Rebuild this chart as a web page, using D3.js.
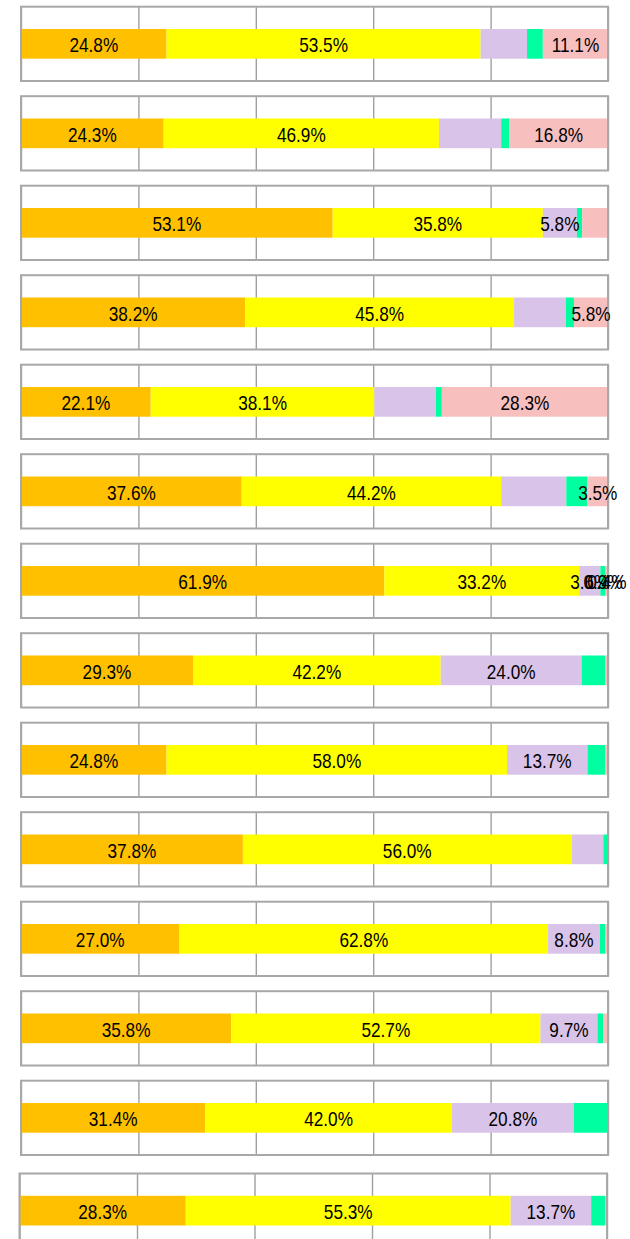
<!DOCTYPE html>
<html>
<head>
<meta charset="utf-8">
<script src="https://cdn.jsdelivr.net/npm/d3@7"></script>
<style>
  body { margin: 0; background: #fff; }
</style>
</head>
<body>
<div id="chart"></div>
<script>
// Chart values (percent), one entry per row, top to bottom
const orange   = [24.8, 24.3, 53.1, 38.2, 22.1, 37.6, 61.9, 29.3, 24.8, 37.8, 27.0, 35.8, 31.4, 28.3];
const yellow   = [53.5, 46.9, 35.8, 45.8, 38.1, 44.2, 33.2, 42.2, 58.0, 56.0, 62.8, 52.7, 42.0, 55.3];
const lavender = [7.9, 10.6, 5.8, 8.8, 10.5, 11.1, 3.6, 24.0, 13.7, 5.4, 8.8, 9.7, 20.8, 13.7];
const green    = [2.7, 1.4, 0.9, 1.4, 1.0, 3.6, 0.9, 4.0, 3.0, 0.8, 0.9, 1.0, 5.8, 2.4];
const pink     = [11.1, 16.8, 4.4, 5.8, 28.3, 3.5, 0.4, 0.5, 0.5, 0.0, 0.5, 0.8, 0.0, 0.3];

// which segments carry a data label in each row (0 = orange ... 4 = pink)
const shownLabels = [
  [0, 1, 4], [0, 1, 4], [0, 1, 2], [0, 1, 4], [0, 1, 4], [0, 1, 4], [0, 1, 2, 3, 4],
  [0, 1, 2], [0, 1, 2], [0, 1], [0, 1, 2], [0, 1, 2], [0, 1, 2], [0, 1, 2]
];
const gridTicks = [0, 20, 40, 60, 80, 100];

const keys = ["orange", "yellow", "lavender", "green", "pink"];
const colors = ["#FFC000", "#FFFF00", "#D9C3E9", "#00FFA0", "#F8BFBF"];

const width = 630, height = 1239;
const panelH = 74.3, barTop = 22.3, barH = 29.7;

const rows = orange.map((d, i) => ({
  i,
  orange: d, yellow: yellow[i], lavender: lavender[i], green: green[i], pink: pink[i]
}));
const stacked = d3.stack().keys(keys)(rows);

const svg = d3.select("#chart").append("svg")
  .attr("width", width)
  .attr("height", height)
  .attr("viewBox", [0, 0, width, height]);

// panel placement: the last panel sits a little apart from the others
const rowY = d3.scaleLinear().domain([0, 12]).range([6.7, 1080.7]);
const panelTop = i => i < 13 ? rowY(i) : 1173.5;
const xMain = d3.scaleLinear().domain([0, 100]).range([21, 608]);
const xLast = d3.scaleLinear().domain([0, 100]).range([19.5, 607]);
const xFor = i => i < 13 ? xMain : xLast;

rows.forEach((row, i) => {
  const x = xFor(i);
  const g = svg.append("g").attr("transform", `translate(0,${panelTop(i)})`);

  g.append("rect")
    .attr("x", x(0)).attr("y", 0)
    .attr("width", x(100) - x(0)).attr("height", panelH)
    .attr("fill", "#fff");

  // vertical gridlines
  g.append("g")
    .attr("transform", `translate(0,${panelH})`)
    .call(d3.axisBottom(x).tickValues(gridTicks).tickSize(-panelH).tickFormat("").tickSizeOuter(0))
    .call(a => a.select(".domain").remove())
    .call(a => a.selectAll(".tick text").remove())
    .call(a => a.selectAll(".tick line").attr("stroke", "#a0a0a0").attr("stroke-width", 1.4));

  // stacked segments
  g.selectAll("rect.seg")
    .data(stacked.map((s, k) => ({ k, v: s[i] })))
    .join("rect")
    .attr("class", "seg")
    .attr("x", d => x(d.v[0]))
    .attr("y", barTop)
    .attr("width", d => Math.max(0, x(d.v[1]) - x(d.v[0])))
    .attr("height", barH)
    .attr("fill", d => colors[d.k]);

  // frame
  g.append("rect")
    .attr("x", x(0)).attr("y", 0)
    .attr("width", x(100) - x(0)).attr("height", panelH)
    .attr("fill", "none")
    .attr("stroke", "#a8a8a8")
    .attr("stroke-width", 2);

  // labels
  g.selectAll("text.lbl")
    .data(stacked.map((s, k) => ({ k, v: s[i], val: s[i].data[keys[k]] }))
      .filter(d => shownLabels[i].includes(d.k)))
    .join("text")
    .attr("class", "lbl")
    .attr("transform", d => `translate(${(x(d.v[0]) + x(d.v[1])) / 2},${barTop + barH / 2 + 8.3}) scale(0.82,1)`)
    .attr("text-anchor", "middle")
    .attr("font-family", "'Liberation Sans', Arial, sans-serif")
    .attr("font-size", 21)
    .attr("fill", "#000")
    .text(d => d.val.toFixed(1) + "%");
});
</script>
</body>
</html>
